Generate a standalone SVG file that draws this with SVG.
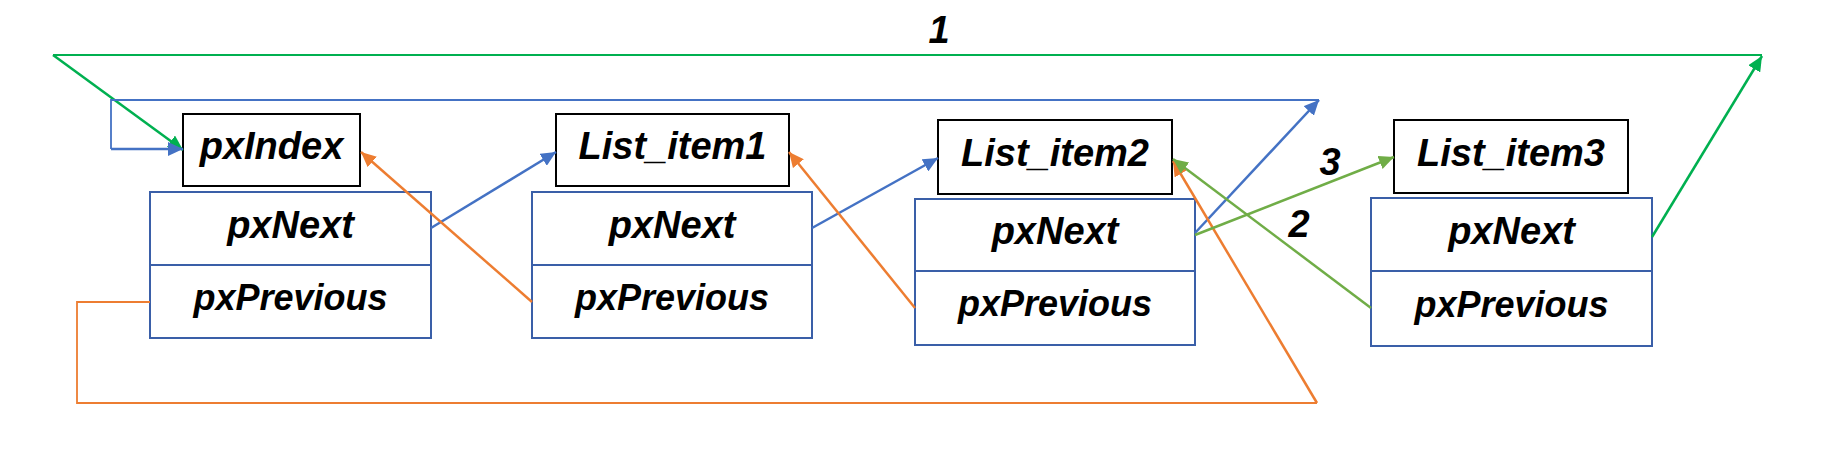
<svg xmlns="http://www.w3.org/2000/svg" width="1833" height="452" viewBox="0 0 1833 452">
<style>
  .lbl { fill:#fff; stroke:#000; stroke-width:2; }
  .cell { fill:#fff; stroke:#3A5FA8; stroke-width:2; }
  .div { stroke:#3A5FA8; stroke-width:2; }
  text { font-family:"Liberation Sans", Arial, sans-serif; font-weight:bold; font-style:italic; font-size:38px; fill:#000; text-anchor:middle; }
  text.prev { font-size:36px; }
  .c { fill:none; stroke-linejoin:miter; }
  .g { stroke:#00B050; }
  .lg { stroke:#70AD47; }
  .b { stroke:#4472C4; }
  .o { stroke:#ED7D31; }
  .thick { stroke-width:2.5; }
  .thin { stroke-width:1.8; }
</style>
<defs>
  <marker id="ag" markerUnits="userSpaceOnUse" markerWidth="16" markerHeight="14" refX="15" refY="7" orient="auto"><path d="M0,0 L15,7 L0,14 Z" fill="#00B050"/></marker>
  <marker id="alg" markerUnits="userSpaceOnUse" markerWidth="16" markerHeight="14" refX="15" refY="7" orient="auto"><path d="M0,0 L15,7 L0,14 Z" fill="#70AD47"/></marker>
  <marker id="ab" markerUnits="userSpaceOnUse" markerWidth="16" markerHeight="14" refX="15" refY="7" orient="auto"><path d="M0,0 L15,7 L0,14 Z" fill="#4472C4"/></marker>
  <marker id="ao" markerUnits="userSpaceOnUse" markerWidth="16" markerHeight="14" refX="15" refY="7" orient="auto"><path d="M0,0 L15,7 L0,14 Z" fill="#ED7D31"/></marker>
</defs>

<g id="pxIndex">
  <rect class="lbl" x="183" y="114" width="177" height="72"/>
  <text x="271.5" y="159">pxIndex</text>
</g>
<g id="node1">
  <rect class="cell" x="150" y="192" width="281" height="146"/>
  <line class="div" x1="150" y1="265" x2="431" y2="265"/>
  <text x="290.5" y="238">pxNext</text>
  <text class="prev" x="290.5" y="310">pxPrevious</text>
</g>
<g id="list_item1">
  <rect class="lbl" x="556" y="114" width="233" height="72"/>
  <text x="672.5" y="159">List_item1</text>
</g>
<g id="node2">
  <rect class="cell" x="532" y="192" width="280" height="146"/>
  <line class="div" x1="532" y1="265" x2="812" y2="265"/>
  <text x="672" y="238">pxNext</text>
  <text class="prev" x="672" y="310">pxPrevious</text>
</g>
<g id="list_item2">
  <rect class="lbl" x="938" y="120" width="234" height="74"/>
  <text x="1055" y="166">List_item2</text>
</g>
<g id="node3">
  <rect class="cell" x="915" y="199" width="280" height="146"/>
  <line class="div" x1="915" y1="271" x2="1195" y2="271"/>
  <text x="1055" y="244">pxNext</text>
  <text class="prev" x="1055" y="316">pxPrevious</text>
</g>
<g id="list_item3">
  <rect class="lbl" x="1394" y="120" width="234" height="73"/>
  <text x="1511" y="166">List_item3</text>
</g>
<g id="node4">
  <rect class="cell" x="1371" y="198" width="281" height="148"/>
  <line class="div" x1="1371" y1="271" x2="1652" y2="271"/>
  <text x="1511.5" y="244">pxNext</text>
  <text class="prev" x="1511.5" y="317">pxPrevious</text>
</g>

<g id="connectors">
  <path class="c g thick" d="M1652,237 L1762,56" marker-end="url(#ag)"/>
  <path class="c g thin" d="M1762,55 H53"/>
  <path class="c g thick" d="M53,55 L183,150" marker-end="url(#ag)"/>
  <path class="c b thick" d="M431,228 L556,152" marker-end="url(#ab)"/>
  <path class="c b thick" d="M812,228 L938,158" marker-end="url(#ab)"/>
  <path class="c b thick" d="M1195,233 L1319,100" marker-end="url(#ab)"/>
  <path class="c b thin" d="M1319,100 H111 V149"/>
  <path class="c b thick" d="M111,149 H183" marker-end="url(#ab)"/>
  <path class="c o thick" d="M532,302 L361,152" marker-end="url(#ao)"/>
  <path class="c o thick" d="M915,308 L789,152" marker-end="url(#ao)"/>
  <path class="c o thin" d="M150,302 H77 V403 H1317"/>
  <path class="c o thick" d="M1317,403 L1173,161" marker-end="url(#ao)"/>
  <path class="c lg thick" d="M1195,235 L1394,157" marker-end="url(#alg)"/>
  <path class="c lg thick" d="M1371,308 L1173,159" marker-end="url(#alg)"/>
  <text x="939" y="43">1</text>
  <text x="1299" y="237">2</text>
  <text x="1330" y="175">3</text>
</g>
</svg>
